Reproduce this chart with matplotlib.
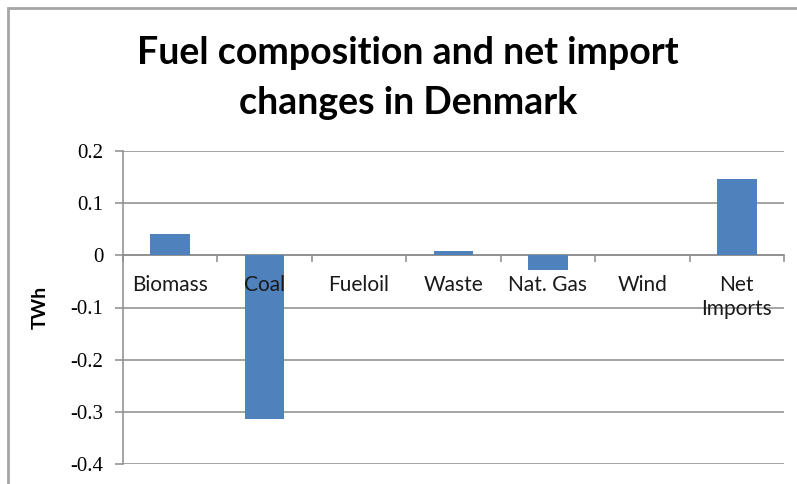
import numpy as np
import matplotlib.pyplot as plt
from matplotlib.patches import Rectangle

# data
categories = ['Biomass', 'Coal', 'Fueloil', 'Waste', 'Nat. Gas', 'Wind', 'Net\nImports']
values = [0.041, -0.313, 0.0, 0.008, -0.028, 0.0, 0.146]
yticks = [-0.4, -0.3, -0.2, -0.1, 0, 0.1, 0.2]
ytick_labels = ['-0.4', '-0.3', '-0.2', '-0.1', '0', '0.1', '0.2']

W, H = 797, 484
fig = plt.figure(figsize=(W / 100, H / 100), dpi=100)
ax = fig.add_axes([123 / W, (H - 464) / H, (784 - 123) / W, (464 - 151) / H])

grid_col = '#8c8c8c'
x = np.arange(len(categories))
ax.bar(x, values, width=0.42, color='#4f81bd', zorder=3)

ax.set_xlim(-0.5, len(categories) - 0.5)
ax.set_ylim(-0.4, 0.2)
ax.set_yticks(yticks)
ax.set_yticklabels(ytick_labels, family='Liberation Serif', fontsize=15)
ax.yaxis.grid(True, color=grid_col, linewidth=1.1, zorder=0)

# x axis sits on the zero line, tick marks between categories
ax.spines['bottom'].set_position(('data', 0))
ax.set_xticks(np.arange(-0.5, len(categories), 1))
ax.set_xticklabels([])
ax.tick_params(axis='x', direction='out', length=5, color=grid_col, width=1.1)
ax.tick_params(axis='y', direction='out', length=6, color=grid_col, width=1.1, pad=8)
for s in ['top', 'right']:
    ax.spines[s].set_visible(False)
for s in ['left', 'bottom']:
    ax.spines[s].set_color(grid_col)
    ax.spines[s].set_linewidth(1.1)

for i, lab in enumerate(categories):
    ax.annotate(lab, xy=(i, 0), xytext=(0, -14), textcoords='offset points',
                ha='center', va='top', family='Lato', fontsize=15,
                linespacing=1.25, color='#1a1a1a', zorder=4)

ax.set_ylabel('TWh', family='Lato', fontweight='bold', fontsize=14, labelpad=16)

fig.text(408 / W, 1 - 78 / H, 'Fuel composition and net import\nchanges in Denmark',
         ha='center', va='center', family='Lato', fontweight='bold',
         fontsize=27, linespacing=1.55)

# outer chart frame
fig.patches.append(Rectangle((8 / W, -0.1), 1.2, 1 - 8 / H + 0.1,
                             transform=fig.transFigure, fill=False,
                             edgecolor='#a6a6a6', linewidth=2))

fig.savefig('out.png', dpi=100)
